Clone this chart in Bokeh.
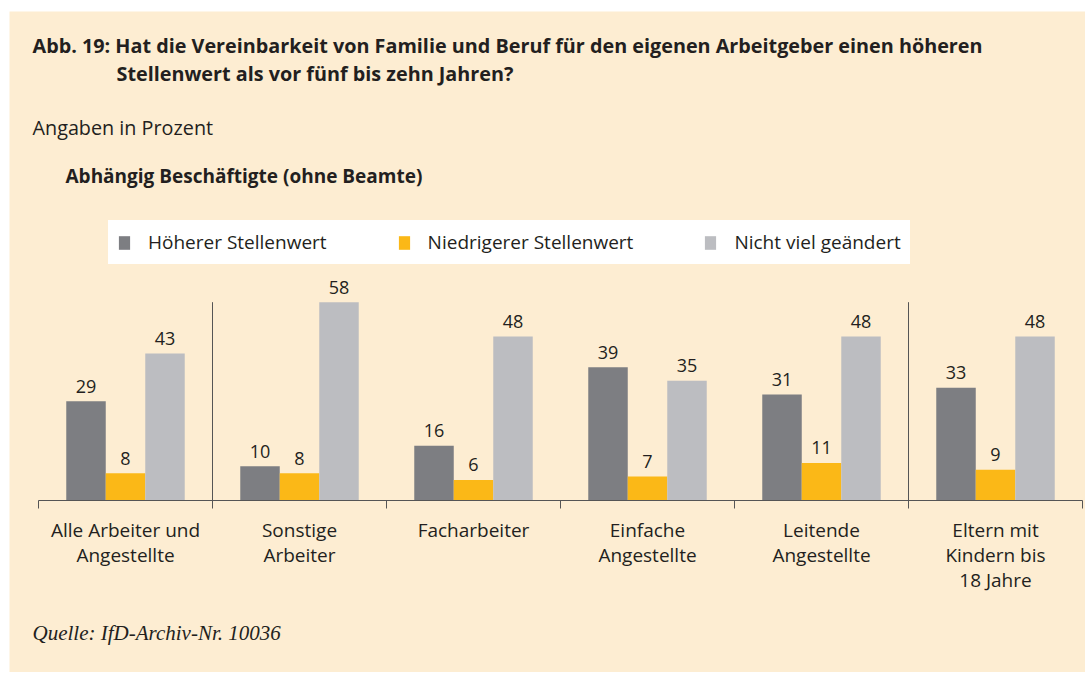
import numpy as np
from bokeh.plotting import figure
from bokeh.models import Range1d, FixedTicker, Label, Legend, LegendItem, ColumnDataSource
from bokeh.core.properties import value
from bokeh.embed import file_html
from bokeh.resources import INLINE

# ---------------- data ----------------
categories = [
    "Alle Arbeiter und\nAngestellte",
    "Sonstige\nArbeiter",
    "Facharbeiter",
    "Einfache\nAngestellte",
    "Leitende\nAngestellte",
    "Eltern mit\nKindern bis\n18 Jahre",
]
series_names = ["Höherer Stellenwert", "Niedrigerer Stellenwert", "Nicht viel geändert"]
hoeher = [29, 10, 16, 39, 31, 33]
niedriger = [8, 8, 6, 7, 11, 9]
nicht_viel = [43, 58, 48, 35, 48, 48]

title_line1 = "Abb. 19: Hat die Vereinbarkeit von Familie und Beruf für den eigenen Arbeitgeber einen höheren"
title_line2 = "Stellenwert als vor fünf bis zehn Jahren?"
subtitle = "Angaben in Prozent"
group_title = "Abhängig Beschäftigte (ohne Beamte)"
source_note = "Quelle: IfD-Archiv-Nr. 10036"

# ---------------- style ----------------
BG = "#fdedd2"
TXT = "#231f20"
COLORS = ["#7d7e82", "#fbb817", "#bcbdc1"]
FONT = "Open Sans"
BAR_W = 0.227

n = len(categories)
p = figure(
    width=1076, height=661, output_backend="svg", toolbar_location=None,
    x_range=Range1d(-0.16667, 6.0172), y_range=Range1d(-50.31, 143.02),
    y_axis_location=None,
    min_border=0,
    background_fill_color=BG, border_fill_color=BG, outline_line_color=None,
    margin=(11, 0, 0, 9),
)
p.grid.visible = False

centers = np.arange(n) + 0.5
renderers = []
for k, (vals, col) in enumerate(zip([hoeher, niedriger, nicht_viel], COLORS)):
    xs = centers + (k - 1) * BAR_W
    src = ColumnDataSource(dict(x=xs, top=vals, lab=[str(v) for v in vals]))
    r = p.vbar(x="x", top="top", bottom=0, width=BAR_W, source=src,
               fill_color=col, line_color=None)
    renderers.append(r)
    p.text(x="x", y="top", text="lab", source=src, text_align="center",
           text_baseline="alphabetic", y_offset=-15, text_color=TXT,
           text_font=value(FONT), text_font_size="18px")

# dividers between overall group / subgroups / parents group
div_x = [1, n - 1]
top_div = max(max(hoeher), max(niedriger), max(nicht_viel))
p.segment(x0=div_x, y0=[0, 0], x1=div_x, y1=[top_div, top_div],
          line_color="#555555", line_width=1)

# x axis at y=0: minor ticks on group boundaries, labels at group centers
ax = p.xaxis[0]
ax.fixed_location = 0
ax.bounds = (0, n)
ax.ticker = FixedTicker(ticks=list(centers), minor_ticks=list(range(n + 1)))
ax.major_label_overrides = {float(c): lab for c, lab in zip(centers, categories)}
ax.major_tick_out = 0
ax.major_tick_in = 0
ax.minor_tick_out = 8
ax.minor_tick_in = 0
ax.minor_tick_line_color = "#555555"
ax.axis_line_color = "#555555"
ax.major_label_text_font = FONT
ax.major_label_text_font_size = "19px"
ax.major_label_text_color = TXT
ax.major_label_text_line_height = 0.95
ax.major_label_standoff = 9

# legend
legend = Legend(
    items=[LegendItem(label=nm, renderers=[r]) for nm, r in zip(series_names, renderers)],
    orientation="horizontal", location=(99, 408),
    glyph_width=14, glyph_height=17, label_standoff=17, spacing=70,
    padding=8, margin=0,
    background_fill_color="white", background_fill_alpha=1.0,
    border_line_color="white", border_line_width=1,
    label_text_font=FONT, label_text_font_size="19px", label_text_color=TXT,
)
p.add_layout(legend, "center")

# texts (screen px from the bottom-left of the figure)
def add_label(txt, x, y, bold=False, italic=False, size="17px", font=FONT):
    style = "bold" if bold else ("italic" if italic else "normal")
    p.add_layout(Label(x=x, y=y, x_units="screen", y_units="screen", text=txt,
                       text_font=font, text_font_size=size, text_font_style=style,
                       text_color=TXT, text_baseline="alphabetic", text_align="left"))

add_label(title_line1, 23, 627, bold=True, size="19.8px")
add_label(title_line2, 107, 599, bold=True, size="19.8px")
add_label(subtitle, 23, 545, size="19.8px")
add_label(group_title, 56, 497, bold=True, size="19px")
add_label(source_note, 23, 40, italic=True, size="21px", font="Liberation Serif")

open("out.html", "w").write(file_html(p, INLINE))
